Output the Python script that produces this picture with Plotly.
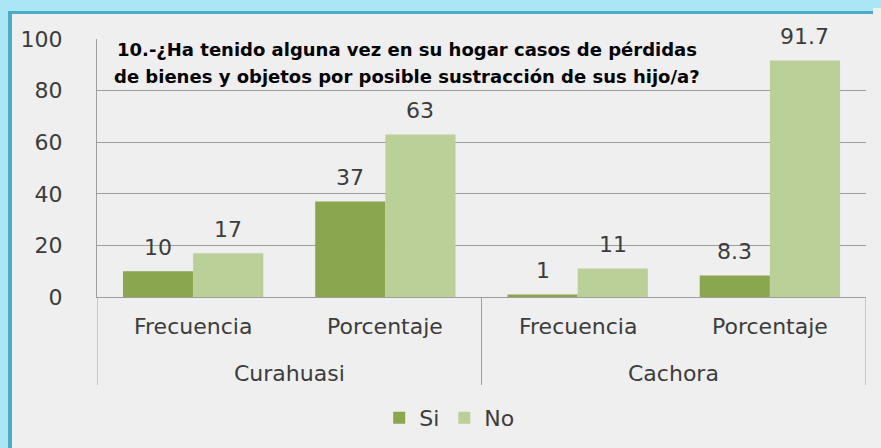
import plotly.graph_objects as go

groups = ["Curahuasi", "Cachora"]
measures = ["Frecuencia", "Porcentaje", "Frecuencia", "Porcentaje"]
categories = ["Curahuasi Frecuencia", "Curahuasi Porcentaje", "Cachora Frecuencia", "Cachora Porcentaje"]
si_values = [10, 37, 1, 8.3]
no_values = [17, 63, 11, 91.7]
si_labels = ["10", "37", "1", "8.3"]
no_labels = ["17", "63", "11", "91.7"]
y_ticks = [0, 20, 40, 60, 80, 100]
title_lines = ["10.-¿Ha tenido alguna vez en su hogar casos de pérdidas",
               "de bienes y objetos por posible sustracción de sus hijo/a?"]

FONT = "DejaVu Sans"
TXT = "#3C3C3C"
GRID = "#9E9E9E"
FS = 22
LIGHT_BLUE = "#ABE6F6"
BG = "#EFEFEF"

fig = go.Figure()
fig.add_trace(go.Bar(x=categories, y=si_values, name="Si",
                     marker=dict(color="#8AA64E", line=dict(width=0))))
fig.add_trace(go.Bar(x=categories, y=no_values, name="No",
                     marker=dict(color="#BBD098", line=dict(width=0))))

annotations = []
# data labels
for cat, v, lab in zip(categories, si_values, si_labels):
    annotations.append(dict(x=cat, y=v, text=lab, xref="x", yref="y", showarrow=False,
                            xanchor="center", yanchor="middle", xshift=-35, yshift=24,
                            font=dict(family=FONT, size=FS, color=TXT)))
for cat, v, lab in zip(categories, no_values, no_labels):
    annotations.append(dict(x=cat, y=v, text=lab, xref="x", yref="y", showarrow=False,
                            xanchor="center", yanchor="middle", xshift=35, yshift=24,
                            font=dict(family=FONT, size=FS, color=TXT)))
# inner category labels
for cat, m in zip(categories, measures):
    annotations.append(dict(x=cat, y=0, text=m, xref="x", yref="paper", showarrow=False,
                            xanchor="center", yanchor="middle", yshift=-29,
                            font=dict(family=FONT, size=FS, color=TXT)))
# outer group labels (centered between their two categories)
for i, g in enumerate(groups):
    annotations.append(dict(x=2 * i + 0.5, y=0, text=g, xref="x", yref="paper", showarrow=False,
                            xanchor="center", yanchor="middle", yshift=-76,
                            font=dict(family=FONT, size=FS, color=TXT)))
# title
for k, line in enumerate(title_lines):
    annotations.append(dict(text="<b>" + line + "</b>", xref="paper", yref="paper",
                            x=0.403, y=1.0, xanchor="center", yanchor="middle",
                            yshift=-10 - 27 * k, showarrow=False, align="center",
                            font=dict(family=FONT, size=18, color="#000000")))

shapes = []
for xb in [-0.5, 1.5, 3.5]:
    shapes.append(dict(type="line", xref="x", yref="paper", x0=xb, x1=xb, y0=0, y1=-0.341,
                       line=dict(color=GRID, width=1)))
# frame border (light blue outer band + teal inner line) on top and left
shapes.append(dict(type="path", xsizemode="pixel", ysizemode="pixel", xref="paper", yref="paper",
                   xanchor=0, yanchor=1, line=dict(width=0), fillcolor=LIGHT_BLUE, layer="below",
                   path="M -110 50 L 1000 50 L 1000 28 L -89 28 L -89 -500 L -110 -500 Z"))
shapes.append(dict(type="path", xsizemode="pixel", ysizemode="pixel", xref="paper", yref="paper",
                   xanchor=0, yanchor=1, line=dict(width=0), fillcolor="#4BACC6", layer="below",
                   path="M -89 28 L 1000 28 L 1000 25 L -85 25 L -85 -500 L -89 -500 Z"))

fig.update_layout(
    width=881, height=448,
    margin=dict(l=89, r=23, t=31, b=159),
    paper_bgcolor=BG, plot_bgcolor=BG,
    barmode="group", bargap=0.27, bargroupgap=0,
    font=dict(family=FONT, size=FS, color=TXT),
    showlegend=True,
    legend=dict(orientation="h", x=0.458, xanchor="center", y=-0.469, yanchor="middle",
                font=dict(family=FONT, size=FS, color=TXT), traceorder="normal",
                bgcolor="rgba(0,0,0,0)"),
    xaxis=dict(type="category", showticklabels=False, showline=True, linecolor=GRID,
               linewidth=1, ticks="", automargin=False, range=[-0.5, 3.5]),
    yaxis=dict(range=[0, 100], tickvals=y_ticks, showgrid=True, gridcolor=GRID,
               gridwidth=1, showline=True, linecolor=GRID, linewidth=1,
               ticks="", ticklabelstandoff=29, automargin=False,
               tickfont=dict(family=FONT, size=FS, color=TXT), zeroline=False),
    annotations=annotations,
    shapes=shapes,
)
body_bg = ("linear-gradient(" + LIGHT_BLUE + " 0px, " + LIGHT_BLUE + " 8px, transparent 8px), "
           "linear-gradient(to right, " + LIGHT_BLUE + " 0px, " + LIGHT_BLUE + " 8px, "
           + BG + " 8px)")
fig.write_html("out.html", default_width="881px", default_height="448px",
               post_script="document.body.style.background='" + body_bg + "';")
